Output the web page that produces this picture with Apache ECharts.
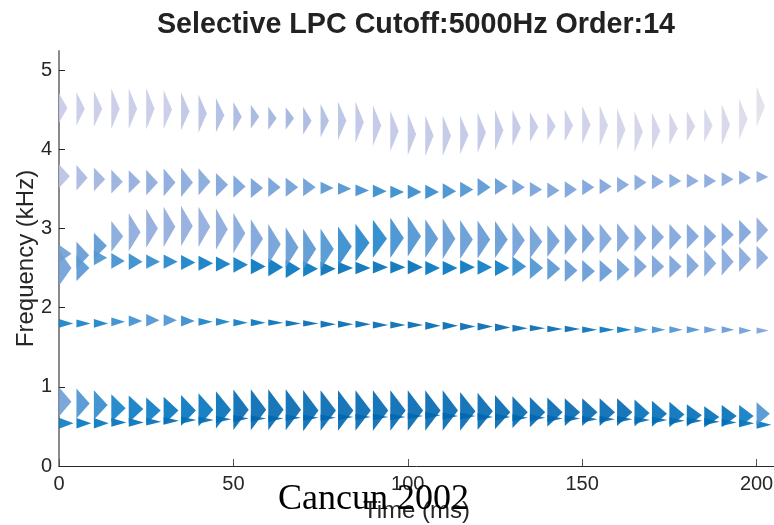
<!DOCTYPE html>
<html>
<head>
<meta charset="utf-8">
<script src="https://cdn.jsdelivr.net/npm/echarts@6/dist/echarts.min.js"></script>
<style>
  html, body { margin: 0; padding: 0; background: #fff; }
  #main { width: 774px; height: 525px; }
</style>
</head>
<body>
<div id="main"></div>
<script>
// frame times (ms)
var times = [0,5,10,15,20,25,30,35,40,45,50,55,60,65,70,75,80,85,90,95,100,
             105,110,115,120,125,130,135,140,145,150,155,160,165,170,175,180,185,190,195,200];

// formant tracks: centre frequency (kHz), bandwidth (kHz), level (0 light .. 10 dark)
var freq1 = [0.54,0.54,0.54,0.55,0.55,0.56,0.57,0.58,0.58,0.59,0.60,0.60,0.60,0.61,0.61,0.61,0.62,0.62,0.62,0.62,0.63,
             0.64,0.63,0.63,0.62,0.62,0.61,0.61,0.60,0.60,0.59,0.59,0.59,0.58,0.58,0.57,0.57,0.56,0.55,0.54,0.52];
var bw1   = [0.14,0.13,0.13,0.11,0.11,0.10,0.10,0.09,0.09,0.09,0.09,0.08,0.08,0.08,0.08,0.08,0.08,0.08,0.08,0.08,0.08,
             0.09,0.09,0.09,0.09,0.09,0.09,0.09,0.09,0.09,0.09,0.09,0.09,0.09,0.09,0.09,0.09,0.09,0.09,0.10,0.10];
var lvl1  = [8.5,9,9,9.5,9.5,9.5,10,10,10,10,10,10,10,10,10,10,10,10,10,10,10,
             10,10,10,10,10,10,10,10,10,10,10,10,10,10,10,10,10,9.5,9.5,9];

var freq2 = [0.81,0.79,0.77,0.73,0.72,0.70,0.70,0.70,0.71,0.71,0.71,0.71,0.71,0.71,0.70,0.70,0.70,0.70,0.70,0.70,0.70,
             0.70,0.70,0.69,0.69,0.68,0.68,0.68,0.68,0.68,0.68,0.68,0.68,0.67,0.66,0.65,0.64,0.62,0.63,0.63,0.66];
var bw2   = [0.37,0.38,0.37,0.35,0.34,0.33,0.35,0.39,0.42,0.47,0.51,0.52,0.52,0.52,0.52,0.51,0.51,0.51,0.51,0.51,0.51,
             0.51,0.51,0.49,0.47,0.43,0.40,0.38,0.37,0.35,0.35,0.35,0.35,0.34,0.33,0.32,0.28,0.27,0.28,0.28,0.29];
var lvl2  = [4.5,6,7,8,8.5,8.5,9,9,9,9.5,10,10,10,10,10,10,10,10,10,10,10,
             10,10,10,10,10,10,10,10,10,10,10,10,9.5,9.5,9.5,9.5,9.5,9.5,8.5,6];

var freq3 = [1.80,1.80,1.80,1.82,1.83,1.84,1.84,1.83,1.82,1.82,1.81,1.81,1.81,1.80,1.80,1.79,1.79,1.79,1.78,1.78,1.78,
             1.77,1.77,1.76,1.76,1.75,1.74,1.74,1.73,1.73,1.72,1.72,1.72,1.72,1.72,1.72,1.72,1.72,1.72,1.71,1.71];
var bw3   = [0.11,0.10,0.11,0.11,0.14,0.16,0.15,0.14,0.10,0.10,0.09,0.09,0.08,0.08,0.08,0.09,0.09,0.09,0.09,0.09,0.09,
             0.10,0.10,0.10,0.10,0.10,0.09,0.08,0.08,0.08,0.08,0.08,0.08,0.09,0.09,0.09,0.09,0.09,0.09,0.09,0.08];
var lvl3  = [8,8,8,7,6.5,6,6,7,8,8,8.5,9,9.5,10,10,10,10,10,10,10,10,
             10,10,10,10,10,10,10,10,10,9.5,9,8.5,7,6.5,6,6,5,5,4.5,4];

var freq4 = [2.50,2.50,2.63,2.59,2.58,2.58,2.58,2.57,2.56,2.55,2.54,2.52,2.51,2.49,2.49,2.49,2.50,2.50,2.51,2.51,2.51,
             2.50,2.50,2.51,2.51,2.50,2.52,2.50,2.49,2.47,2.46,2.46,2.48,2.52,2.52,2.52,2.53,2.56,2.58,2.61,2.63];
var bw4   = [0.45,0.33,0.19,0.20,0.21,0.18,0.18,0.19,0.19,0.19,0.20,0.20,0.23,0.23,0.20,0.18,0.16,0.16,0.16,0.16,0.18,
             0.18,0.18,0.18,0.19,0.20,0.25,0.28,0.28,0.29,0.28,0.28,0.29,0.29,0.29,0.29,0.32,0.34,0.35,0.32,0.30];
var lvl4  = [4.5,5.5,6,6.5,7,7,7.5,8,8.5,8.5,8.5,9,9,9,9,9.5,9.5,9.5,9.5,9.5,9.5,
             9,9,9,8.5,8.5,7,6,5.5,5,5,5,4.5,4.2,4,4,3.8,3.6,3.5,3.4,3.2];

var freq5 = [2.68,2.66,2.78,2.90,2.95,3.00,3.02,3.03,3.02,2.99,2.94,2.87,2.80,2.76,2.74,2.74,2.77,2.82,2.87,2.88,2.90,
             2.87,2.87,2.86,2.86,2.86,2.85,2.83,2.84,2.86,2.87,2.87,2.88,2.88,2.89,2.89,2.90,2.90,2.92,2.95,2.98];
var bw5   = [0.23,0.34,0.33,0.39,0.48,0.49,0.51,0.51,0.51,0.52,0.51,0.49,0.51,0.51,0.51,0.51,0.51,0.48,0.48,0.51,0.51,
             0.49,0.51,0.49,0.48,0.47,0.45,0.42,0.40,0.39,0.38,0.38,0.37,0.35,0.33,0.33,0.32,0.30,0.30,0.32,0.32];
var lvl5  = [4.5,5,5.5,3.5,3.2,3,3,3,3,3.2,3.5,4,4.5,5,5.5,6,7,7.5,7.5,6.5,6,
             5.5,5,5,5,5,4.5,4.5,4.5,4.5,4.5,3.8,3.8,3.8,3.8,3.8,3.8,3.8,3.8,3.8,3];

var freq6 = [3.66,3.64,3.62,3.59,3.59,3.58,3.58,3.58,3.59,3.55,3.53,3.51,3.52,3.52,3.52,3.51,3.50,3.48,3.47,3.46,3.46,
             3.46,3.47,3.49,3.52,3.53,3.52,3.49,3.48,3.49,3.52,3.53,3.55,3.58,3.59,3.60,3.60,3.60,3.62,3.64,3.65];
var bw6   = [0.30,0.32,0.30,0.30,0.29,0.32,0.35,0.37,0.34,0.30,0.28,0.25,0.25,0.24,0.23,0.16,0.15,0.15,0.16,0.16,0.18,
             0.18,0.20,0.20,0.23,0.21,0.20,0.19,0.20,0.21,0.20,0.20,0.20,0.20,0.19,0.18,0.18,0.18,0.18,0.18,0.15];
var lvl6  = [1.5,2,2.3,2.7,3,3.2,3.3,3.4,3.5,3.8,4,4.2,4.3,4.5,4.7,5.5,6,6.5,7,7,7,
             7,6.5,6,5.5,5,4.5,4.2,4,4,4,3.8,3.7,3.6,3.5,3.5,3.4,3.4,3.3,3.3,3.2];

var freq7 = [4.52,4.51,4.51,4.51,4.51,4.51,4.50,4.48,4.45,4.43,4.41,4.41,4.39,4.39,4.36,4.36,4.36,4.34,4.30,4.23,4.19,
             4.17,4.17,4.18,4.21,4.24,4.27,4.28,4.29,4.30,4.31,4.30,4.25,4.22,4.23,4.26,4.29,4.30,4.31,4.38,4.54];
var bw7   = [0.37,0.42,0.45,0.51,0.51,0.52,0.49,0.48,0.48,0.43,0.37,0.30,0.29,0.28,0.35,0.42,0.48,0.52,0.51,0.51,0.53,
             0.52,0.51,0.49,0.51,0.51,0.45,0.38,0.35,0.40,0.48,0.51,0.53,0.52,0.47,0.40,0.38,0.42,0.52,0.52,0.51];
var lvl7  = [1,1,1,1,1,1,1,1.3,1.5,1.8,2,2.2,2.3,2.3,2,1.8,1.5,1.3,1.2,1.2,1.2,
             1.2,1.2,1.2,1.2,1.2,1.2,1.1,1,0.9,0.8,0.7,0.6,0.6,0.6,0.6,0.6,0.5,0.5,0.3,0];

var xTicks = [0,50,100,150,200];
var yTicks = [0,1,2,3,4,5];

var tracks = [
  [freq1, bw1, lvl1], [freq2, bw2, lvl2], [freq3, bw3, lvl3], [freq4, bw4, lvl4],
  [freq5, bw5, lvl5], [freq6, bw6, lvl6], [freq7, bw7, lvl7]
];

var myChart = echarts.init(document.getElementById('main'));

// right-pointing triangle: base spans the bandwidth at time t, tip at the centre frequency
function makeRender(top) {
    return function (params, api) {
        var t = api.value(0), f = api.value(1), bw = api.value(2), lv = api.value(3);
        var w = top ? 2.4 : 2.9 + 0.15 * lv;   // ms
        var p1 = api.coord([t, f + bw / 2]);
        var p2 = api.coord([t + w, f]);
        var p3 = api.coord([t, f - bw / 2]);
        return {
            type: 'polygon',
            shape: { points: [p1, p2, p3] },
            style: { fill: api.visual('color'), opacity: 0.9 }
        };
    };
}

var series = tracks.map(function (tr, k) {
    return {
        name: 'F' + (k + 1),
        type: 'custom',
        renderItem: makeRender(k === 6),
        clip: false,
        encode: { x: 0, y: 1 },
        data: times.map(function (t, i) { return [t, tr[0][i], tr[1][i], tr[2][i]]; })
    };
});

var tickFont = { fontFamily: 'Liberation Sans', fontSize: 20, color: '#262626' };

myChart.setOption({
    animation: false,
    title: {
        text: 'Selective LPC Cutoff:5000Hz Order:14',
        left: 411, top: 6, textAlign: 'center',
        textStyle: { fontFamily: 'Liberation Sans', fontWeight: 'bold', fontSize: 28.7, color: '#222' }
    },
    grid: { left: 59, right: 0, top: 51, bottom: 59, containLabel: false, outerBoundsMode: 'none' },
    visualMap: {
        show: false, type: 'continuous', dimension: 3, min: 0, max: 10,
        inRange: { color: ['#e2dfea','#c6cae7','#a8b7e0','#8eaadc','#78a1d9','#6299d5',
                           '#4a92d1','#3089cd','#1280c8','#0074be','#0067b0'] }
    },
    xAxis: {
        type: 'value', min: 0, max: 205,
        name: 'Time (ms)', nameLocation: 'middle', nameGap: 26,
        nameTextStyle: { fontFamily: 'Liberation Sans', fontSize: 24, color: '#262626' },
        axisLine: { lineStyle: { color: '#262626', width: 1 } },
        axisTick: { inside: true, length: 7, customValues: xTicks, lineStyle: { color: '#555' } },
        axisLabel: Object.assign({ margin: 8, customValues: xTicks }, tickFont),
        splitLine: { show: false }
    },
    yAxis: {
        type: 'value', min: 0, max: 5.24,
        name: 'Frequency (kHz)', nameLocation: 'middle', nameGap: 21, nameMoveOverlap: false,
        nameTextStyle: { fontFamily: 'Liberation Sans', fontSize: 24, color: '#262626' },
        axisLine: { show: true, lineStyle: { color: '#8a8a8a', width: 2 } },
        axisTick: { show: true, inside: true, length: 6, customValues: yTicks, lineStyle: { color: '#262626' } },
        axisLabel: Object.assign({ margin: 7, customValues: yTicks }, tickFont),
        splitLine: { show: false }
    },
    series: series,
    graphic: [{
        type: 'text', left: 278, top: 482, z: 100,
        style: { text: 'Cancun 2002', font: '36px "Liberation Serif"', fill: '#000' }
    }]
});
</script>
</body>
</html>
